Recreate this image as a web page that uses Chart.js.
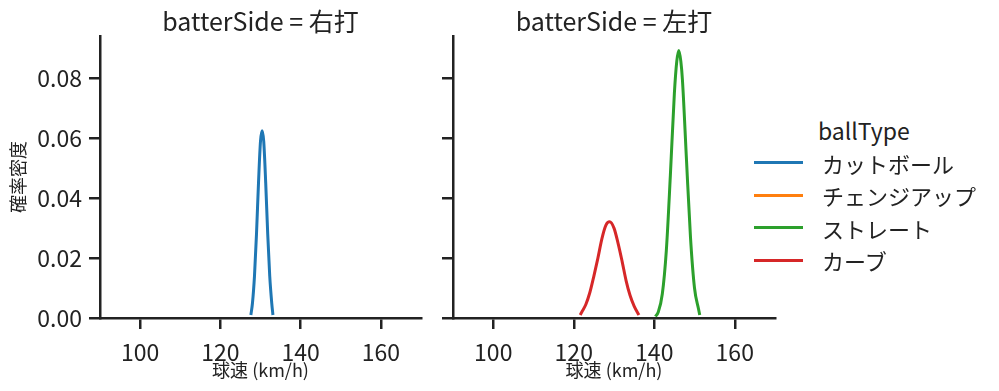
<!DOCTYPE html>
<html>
<head>
<meta charset="utf-8">
<script src="https://cdn.jsdelivr.net/npm/chart.js@4"></script>
<style>
  body { margin: 0; background: #fff; }
  #wrap { position: relative; width: 999px; height: 391px; font-family: "Noto Sans CJK JP", sans-serif; color: #222; }
  canvas { position: absolute; top: 0; }
  #legend { position: absolute; left: 0; top: 0; }
  .lg-title { position: absolute; left: 818px; font-size: 23px; line-height: 26px; }
  .lg-line { position: absolute; left: 754px; width: 49px; height: 3px; }
  .lg-text { position: absolute; left: 822px; font-size: 22px; line-height: 26px; white-space: nowrap; }
</style>
</head>
<body>
<div id="wrap">
  <canvas id="chartR" width="440" height="391" style="left:0"></canvas>
  <canvas id="chartL" width="340" height="391" style="left:440px"></canvas>
  <div id="legend"></div>
</div>
<script>
// 球種・色
const pitchTypes = ['カットボール', 'チェンジアップ', 'ストレート', 'カーブ'];
const pitchColors = ['#1f77b4', '#ff7f0e', '#2ca02c', '#d62728'];

const xTicks = [100, 120, 140, 160];
const yTicks = [0, 0.02, 0.04, 0.06, 0.08];

// 右打 - カットボール
const cutSpeedR = [127.6, 128.0, 128.5, 129.0, 129.5, 130.0, 130.4, 130.8, 131.3, 131.8, 132.3, 132.8, 133.1];
const cutDensR  = [0.001, 0.005, 0.014, 0.028, 0.045, 0.059, 0.0625, 0.059, 0.045, 0.028, 0.014, 0.005, 0.001];

// 左打 - カーブ
const curveSpeedL = [121.6, 122, 123, 124, 125, 126, 127, 128, 128.9, 130, 131, 132, 133, 134, 135, 136.2];
const curveDensL  = [0.001, 0.002, 0.0045, 0.0085, 0.014, 0.020, 0.0265, 0.031, 0.0321, 0.030, 0.025, 0.019, 0.0125, 0.0075, 0.004, 0.001];

// 左打 - ストレート
const straightSpeedL = [140.3, 141, 142, 143, 144, 145, 145.6, 146.1, 146.6, 147, 148, 149, 150, 151, 151.3];
const straightDensL  = [0.0005, 0.002, 0.008, 0.0225, 0.0475, 0.075, 0.0857, 0.0893, 0.0857, 0.0795, 0.053, 0.027, 0.010, 0.003, 0.001];

Chart.defaults.font.family = '"Noto Sans CJK JP", sans-serif';
Chart.defaults.color = '#222';

const toPoints = (xs, ys) => xs.map((x, i) => ({ x: x, y: ys[i] }));

function line(idx, xs, ys) {
  return {
    label: pitchTypes[idx],
    data: toPoints(xs, ys),
    borderColor: pitchColors[idx],
    backgroundColor: pitchColors[idx],
    borderWidth: 3,
    pointRadius: 0,
    fill: false,
    cubicInterpolationMode: 'monotone'
  };
}

// パネルタイトル
const panelTitle = {
  id: 'panelTitle',
  afterDraw(chart, args, opts) {
    const a = chart.chartArea;
    const ctx = chart.ctx;
    ctx.save();
    ctx.font = '25px "Noto Sans CJK JP"';
    ctx.fillStyle = '#222';
    ctx.textAlign = 'center';
    ctx.textBaseline = 'middle';
    ctx.fillText(opts.text, (a.left + a.right) / 2, 21);
    ctx.restore();
  }
};

function makePanel(id, datasets, title, yAxisWidth, padRight, showY) {
  const axisCommon = {
    border: { display: true, color: '#222', width: 2.5 },
    grid: { drawOnChartArea: false, drawTicks: true, tickLength: 11, color: '#222', lineWidth: 2.5 }
  };
  return new Chart(document.getElementById(id), {
    type: 'line',
    data: { datasets: datasets },
    options: {
      responsive: false,
      animation: false,
      layout: { padding: { top: 36, right: padRight, bottom: 0, left: 0 } },
      plugins: {
        legend: { display: false },
        tooltip: { enabled: false },
        panelTitle: { text: title }
      },
      scales: {
        x: Object.assign({}, axisCommon, {
          type: 'linear',
          min: 90,
          max: 170,
          afterBuildTicks: s => { s.ticks = xTicks.map(v => ({ value: v })); },
          afterFit: s => { s.height = 73; },
          ticks: { font: { size: 23 }, padding: 9, color: '#222' },
          title: { display: true, text: '球速 (km/h)', font: { size: 18 }, padding: { top: 0, bottom: 10 }, color: '#222' }
        }),
        y: Object.assign({}, axisCommon, {
          type: 'linear',
          min: 0,
          max: 0.0941,
          afterBuildTicks: s => { s.ticks = yTicks.map(v => ({ value: v })); },
          afterFit: s => { s.width = yAxisWidth; },
          ticks: {
            font: { size: 23 },
            padding: 7,
            color: '#222',
            callback: v => showY ? v.toFixed(2) : ''
          },
          title: { display: showY, text: '確率密度', font: { size: 18 }, padding: { top: 7, bottom: 0 }, color: '#222' }
        })
      }
    },
    plugins: [panelTitle]
  });
}

makePanel('chartR', [line(0, cutSpeedR, cutDensR)], 'batterSide = 右打', 100, 19, true);
makePanel('chartL', [line(3, curveSpeedL, curveDensL), line(2, straightSpeedL, straightDensL)], 'batterSide = 左打', 13, 5, false);

// 凡例
const legend = document.getElementById('legend');
const lgTitle = document.createElement('div');
lgTitle.className = 'lg-title';
lgTitle.style.top = (130 - 13) + 'px';
lgTitle.textContent = 'ballType';
legend.appendChild(lgTitle);
pitchTypes.forEach((name, i) => {
  const cy = 162.7 + i * 32.5;
  const ln = document.createElement('div');
  ln.className = 'lg-line';
  ln.style.top = (cy - 1.5) + 'px';
  ln.style.background = pitchColors[i];
  legend.appendChild(ln);
  const tx = document.createElement('div');
  tx.className = 'lg-text';
  tx.style.top = (cy - 13) + 'px';
  tx.textContent = name;
  legend.appendChild(tx);
});
</script>
</body>
</html>
